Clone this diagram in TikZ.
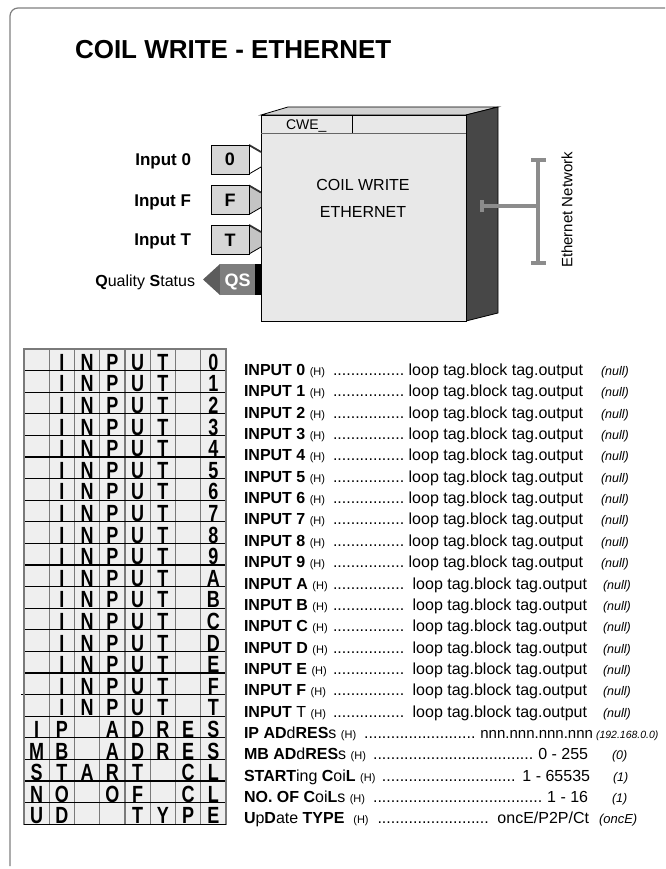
\documentclass[tikz,border=0pt]{standalone}
\usepackage{fontspec}
\usepackage{graphicx}
\setmainfont{Liberation Sans}
\newcommand{\fsz}[1]{\fontsize{#1}{#1}\selectfont}
\newcommand{\dotlead}{\leaders\hbox to 4.45pt{\hss.\hss}\hfill}
\newcommand{\Hs}{{\fsz{11}(H)}}
\definecolor{framegray}{HTML}{7F7F7F}
\definecolor{gridfill}{HTML}{EFEFEF}
\definecolor{gridv}{HTML}{7A7A7A}
\definecolor{blockfill}{HTML}{E8E8E8}
\definecolor{blocktop}{HTML}{D2D2D2}
\definecolor{blockside}{HTML}{474747}
\definecolor{netgray}{HTML}{8C8C8C}
\definecolor{inboxc}{HTML}{D6D6D6}
\definecolor{inptr}{HTML}{C4C4C4}
\definecolor{qsbody}{HTML}{7E7E7E}
\definecolor{qstip}{HTML}{5C5C5C}
\begin{document}
\begin{tikzpicture}[x=1pt,y=-1pt,
  every node/.style={inner sep=0pt,outer sep=0pt},
  glyph/.style={anchor=base,font=\fsz{18}\bfseries},
  rowtxt/.style={anchor=base west,font=\fsz{16}},
  dflt/.style={anchor=base west,font=\fsz{12.5}\itshape},
  inlab/.style={anchor=base east,font=\fsz{17}\bfseries},
  inbox/.style={draw=black,line width=0.8pt,fill=inboxc,minimum width=38pt,minimum height=29pt},
  edge/.style={line width=0.8pt},
  net/.style={netgray,line width=3.5pt}]
\useasboundingbox (0,0) rectangle (665,869);
% frame
\draw[framegray,line width=1.2pt,rounded corners=8pt] (10,866) -- (10,8) -- (665,8);
% title
\node[anchor=base west,font=\fsz{26}\bfseries] (title) at (75,59) {COIL WRITE - ETHERNET};
% block
\draw[edge,fill=blocktop] (261,115) -- (288,107) -- (498,107) -- (466,115) -- cycle;
\draw[edge,fill=blockside] (466,115) -- (498,107) -- (498,313) -- (466,321) -- cycle;
\draw[edge,fill=blockfill] (261,115) rectangle (466,321);
\draw[edge,black!60] (261,133) -- (466,133);
\draw[edge] (352,115) -- (352,133);
\node[anchor=base west,font=\fsz{14}] (cwe) at (286,130) {CWE\_};
\node[anchor=base,font=\fsz{16}] (bt1) at (363,190) {COIL WRITE};
\node[anchor=base,font=\fsz{16}] (bt2) at (363,217) {ETHERNET};
% inputs
\foreach \lbl/\yc/\pf [count=\n] in {0/159.5/white,F/200/inptr,T/239.5/inptr}{
  \fill[\pf] (249,\yc-14.5) -- (261,\yc-7.5) -- (261,\yc+7.5) -- (249,\yc+14.5) -- cycle;
  \draw[edge] (249,\yc+14.5) -- (261,\yc+7.5);
  \draw[line width=1.8pt,black!80] (249,\yc-14.5) -- (261,\yc-7.5);
  \node[inbox] (box\n) at (230,\yc) {};
  \node[glyph] (boxl\n) at (230,\yc+6.5) {\lbl};
  \node[inlab] (inl\n) at (191,\yc+6) {Input \lbl};
}
% QS
\fill[qstip] (220,264) -- (203,279.5) -- (220,295) -- cycle;
\fill[qsbody] (220,264) rectangle (255,295);
\fill[black] (255,264) rectangle (261,295);
\node[glyph,text=white] (qs) at (237.5,286) {QS};
\node[anchor=base east,font=\fsz{16}] (qslab) at (195,286) {\textbf{Q}uality \textbf{S}tatus};
% ethernet
\coordinate (stub) at (482,206);
\coordinate (bus) at (538,206);
\draw[net] (482,200) -- (482,212);
\draw[net] (stub) -- (bus);
\draw[net] (538,160) -- (538,263);
\draw[net] (531,160) -- (546,160);
\draw[net] (531,263) -- (546,263);
\node[rotate=90,font=\fsz{15}] (eth) at (567,210) {Ethernet Network};
% grid
\fill[gridfill] (24,349) rectangle (226,824.2);
\foreach \c in {1,...,7} \draw[gridv,line width=1.1pt] (24+25.25*\c,349) -- (24+25.25*\c,824.2);
\foreach \r in {1,...,21} \draw[black,line width=1.1pt] (24,349+21.6*\r) -- (226,349+21.6*\r);
\draw[black,line width=1.1pt] (21,349+21.6*16) -- (24,349+21.6*16);
\draw[gridv,line width=1.1pt] (24,349) rectangle (226,824.2);
\draw[black,line width=1.1pt] (24,824.2) -- (226,824.2);
\foreach \row [count=\r from 0] in {
 {{},I,N,P,U,T,{},0},{{},I,N,P,U,T,{},1},{{},I,N,P,U,T,{},2},{{},I,N,P,U,T,{},3},
 {{},I,N,P,U,T,{},4},{{},I,N,P,U,T,{},5},{{},I,N,P,U,T,{},6},{{},I,N,P,U,T,{},7},
 {{},I,N,P,U,T,{},8},{{},I,N,P,U,T,{},9},{{},I,N,P,U,T,{},A},{{},I,N,P,U,T,{},B},
 {{},I,N,P,U,T,{},C},{{},I,N,P,U,T,{},D},{{},I,N,P,U,T,{},E},{{},I,N,P,U,T,{},F},
 {{},I,N,P,U,T,{},T},{I,P,{},A,D,R,E,S},{M,B,{},A,D,R,E,S},{S,T,A,R,T,{},C,L},
 {N,O,{},O,F,{},C,L},{U,D,{},{},T,Y,P,E}}{
  \foreach \ch [count=\c from 0] in \row {
    \node[glyph] (g\r c\c) at ({24+25.25*(\c+0.5)},{349+21.6*(\r+1)-0.3}) {\scalebox{1}[1.3]{\ch}};
  }
}
% parameter rows
\foreach \k [count=\i from 0] in {0,1,2,3,4,5,6,7,8,9,A,B,C,D,E,F}{
  \pgfmathsetmacro{\yb}{375.5+21.35*\i}
  \pgfmathsetmacro{\rw}{\i<10 ? 339 : 343}
  \pgfmathsetmacro{\dx}{\i<10 ? 601 : 603}
  \node[rowtxt] (lab\i) at (244,\yb) {\hbox to \rw pt{\textbf{INPUT \k}\ \Hs\ \dotlead\ loop tag.block tag.output}};
  \node[dflt] (def\i) at (\dx,\yb) {(null)};
}
\node[rowtxt] (lab16) at (244,717.1) {\hbox to 343pt{\textbf{INPUT} T\ \Hs\ \dotlead\ loop tag.block tag.output}};
\node[dflt] (def16) at (603,717.1) {(null)};
\node[rowtxt] (lab17) at (244,738.45) {\hbox to 349pt{\textbf{IP AD}d\textbf{RES}s\ \Hs\ \dotlead\ {\fsz{15}nnn.nnn.nnn.nnn}}};
\node[anchor=base west,font=\fsz{10.5}\itshape] (def17) at (596,738.45) {(192.168.0.0)};
\node[rowtxt] (lab18) at (244,759.8) {\hbox to 344pt{\textbf{MB AD}d\textbf{RES}s\ \Hs\ \dotlead\ 0 - 255}};
\node[dflt] (def18) at (612,759.8) {(0)};
\node[rowtxt] (lab19) at (244,781.15) {\hbox to 346pt{\textbf{START}ing \textbf{C}oi\textbf{L}\ \Hs\ \dotlead\ 1 - 65535}};
\node[dflt] (def19) at (613,781.15) {(1)};
\node[rowtxt] (lab20) at (244,802.5) {\hbox to 344pt{\textbf{NO. OF C}oi\textbf{L}s\ \Hs\ \dotlead\ 1 - 16}};
\node[dflt] (def20) at (612,802.5) {(1)};
\node[rowtxt] (lab21) at (244,823.85) {\hbox to 345pt{\textbf{U}p\textbf{D}ate \textbf{TYPE}\ \ \Hs\ \dotlead\ oncE/P2P/Ct}};
\node[anchor=base west,font=\fsz{13}\itshape] (def21) at (599,823.85) {(oncE)};
\end{tikzpicture}
\end{document}
